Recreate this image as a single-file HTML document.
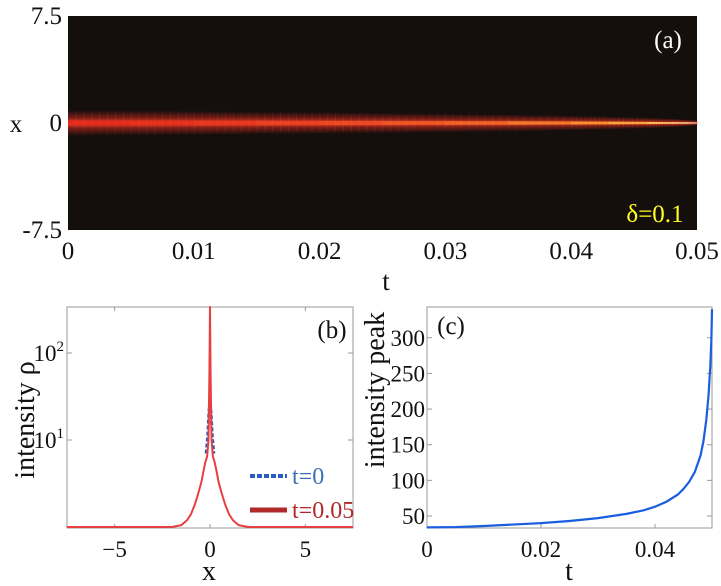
<!DOCTYPE html>
<html><head><meta charset="utf-8"><style>
html,body{margin:0;padding:0;background:#fff;width:721px;height:586px;overflow:hidden}
svg{display:block}
svg text{font-family:"Liberation Serif","DejaVu Serif",serif}
</style></head><body>
<svg id="fig" width="721" height="586" viewBox="0 0 721 586" xmlns="http://www.w3.org/2000/svg">
<defs>
<linearGradient id="bandG" x1="0" y1="0" x2="0" y2="1">
<stop offset="0" stop-color="#e03020" stop-opacity="0"/>
<stop offset="0.3" stop-color="#e03020" stop-opacity="0.5"/>
<stop offset="0.5" stop-color="#ff4a30" stop-opacity="1"/>
<stop offset="0.7" stop-color="#e03020" stop-opacity="0.5"/>
<stop offset="1" stop-color="#e03020" stop-opacity="0"/>
</linearGradient>
</defs>
</svg>
<script>
// Panel (a) data
const aTicksT=[0,0.01,0.02,0.03,0.04,0.05];
const aTickLabelsT=["0","0.01","0.02","0.03","0.04","0.05"];
const aTicksX=[7.5,0,-7.5];
const aTickLabelsX=["7.5","0","-7.5"];
const aBandT=[0,0.005,0.01,0.015,0.02,0.025,0.03,0.035,0.04,0.043,0.046,0.048,0.049,0.05];
const aBandHalfWidth=[0.9,0.88,0.85,0.8,0.76,0.72,0.66,0.6,0.52,0.46,0.38,0.3,0.24,0.16];
const aBandColor=["#e52a1c","#e6301c","#e8361e","#ea4020","#ec4a22","#ee5824","#f06826","#f4802a","#f89a30","#fab040","#fcc860","#fdda80","#fff0b0","#ffe8c0"];
// Panel (b) data
const bX=[-7.5,-2,-1.5,-1.2,-1,-0.8,-0.6,-0.45,-0.35,-0.25,-0.15,-0.08,-0.03,0,0.03,0.08,0.15,0.25,0.35,0.45,0.6,0.8,1,1.2,1.5,2,7.5];
const bRed=[1,1,1.05,1.2,1.4,1.8,2.5,3.3,4.3,5.5,6.5,10,60,340,60,10,6.5,5.5,4.3,3.3,2.5,1.8,1.4,1.2,1.05,1,1];
const bBlueX=[-0.2,-0.12,-0.06,0,0.06,0.12,0.2];
const bBlue=[7,11,20,30,20,11,7];
const bTicksX=[-5,0,5];
const bTicksY=[10,100];
// Panel (c) data
const cT=[0,0.005,0.01,0.015,0.02,0.025,0.03,0.035,0.038,0.04,0.042,0.044,0.045,0.046,0.047,0.048,0.0485,0.049,0.0494,0.0497,0.0499,0.05];
const cPeak=[34,34.5,36,38,40,43,47,53,58,63,70,80,88,98,112,135,155,185,220,260,300,340];
const cTicksT=[0,0.02,0.04];
const cTickLabelsT=["0","0.02","0.04"];
const cTicksY=[50,100,150,200,250,300];

const NS="http://www.w3.org/2000/svg";
const svg=document.getElementById('fig');
function mk(tag,attrs,parent){const e=document.createElementNS(NS,tag);for(const k in attrs)e.setAttribute(k,attrs[k]);(parent||svg).appendChild(e);return e;}
function txt(x,y,s,size,anchor,fill,parent){const e=mk('text',{x:x,y:y,'font-size':size,'text-anchor':anchor||'middle',fill:fill||'#111','font-family':'Liberation Serif, serif'},parent);e.textContent=s;return e;}

// ---------- Panel A ----------
const A={l:68,r:697,t:16,b:230};
const ax=t=>A.l+(t-0)/(0.05)*(A.r-A.l);
const ay=x=>A.t+(7.5-x)/15*(A.b-A.t);
const gA=mk('g',{});


const bg=mk('rect',{x:A.l,y:A.t,width:A.r-A.l,height:A.b-A.t,fill:'#140e0d'},gA);


for(let i=0;i<aBandT.length-1;i++){
  const x0=ax(aBandT[i]),x1=ax(aBandT[i+1]);
  const steps=8;
  for(let s=0;s<steps;s++){
    const f=s/steps;
    const hw=aBandHalfWidth[i]+(aBandHalfWidth[i+1]-aBandHalfWidth[i])*f;
    const y0=ay(hw),y1=ay(-hw);
    const cx=x0+(x1-x0)*f;
    const r=mk('rect',{x:cx,y:y0,width:(x1-x0)/steps+0.6,height:y1-y0,fill:'url(#bandG)'},gA);
    
    
    const c=mk('rect',{x:cx,y:ay(hw*0.2),width:(x1-x0)/steps+0.6,height:ay(-hw*0.2)-ay(hw*0.2),fill:aBandColor[i],opacity:0.9},gA);
    
    
  }
}
aTicksT.forEach((t,i)=>{const e=txt(ax(t),259,aTickLabelsT[i],25,'middle','#111');});
aTicksX.forEach((x,i)=>{const e=txt(62,ay(x)+8,aTickLabelsX[i],25,'end','#111');});
let e;
e=txt(386,290,'t',27);
e=txt(16,132,'x',25);
e=txt(668,48,'(a)',25,'middle','#fff');
e=txt(655,222,'δ=0.1',25,'middle','#ffff20');

// ---------- Panel B ----------
const B={l:67,r:353,t:307,b:528};
const bx=x=>B.l+(x+7.5)/15*(B.r-B.l);
const by=v=>{const y=440-(Math.log10(v)-1)*87;return Math.max(B.t,Math.min(B.b,y));};
const gB=mk('g',{});


const fb=mk('rect',{x:B.l,y:B.t,width:B.r-B.l,height:B.b-B.t,fill:'#fff',stroke:'#999','stroke-width':1},gB);

bTicksX.forEach(x=>{mk('line',{x1:bx(x),x2:bx(x),y1:B.b,y2:B.b-4,stroke:'#999'},gB);mk('line',{x1:bx(x),x2:bx(x),y1:B.t,y2:B.t+4,stroke:'#999'},gB);
  const t=txt(bx(x),557,x<0?'−'+Math.abs(x):String(x),23,'middle','#111',gB);});
bTicksY.forEach(v=>{mk('line',{x1:B.l,x2:B.l+5,y1:by(v),y2:by(v),stroke:'#999'},gB);mk('line',{x1:B.r,x2:B.r-5,y1:by(v),y2:by(v),stroke:'#999'},gB);
  const t=mk('text',{x:64,y:by(v)+8,'font-size':23,'text-anchor':'end',fill:'#111','font-family':'Liberation Serif, serif'},gB);
  
  const t1=document.createElementNS(NS,'tspan');t1.textContent='10';t.appendChild(t1);
  const t2=document.createElementNS(NS,'tspan');t2.setAttribute('dy','-10');t2.setAttribute('font-size','15');t2.textContent=String(Math.round(Math.log10(v)));t.appendChild(t2);});
const blueP=mk('polyline',{points:bBlueX.map((x,i)=>bx(x)+','+by(bBlue[i])).join(' '),fill:'none',stroke:'#2a5fc0','stroke-width':3,'stroke-dasharray':'4,2'},gB);

const redP=mk('polyline',{points:bX.map((x,i)=>bx(x)+','+by(bRed[i])).join(' '),fill:'none',stroke:'#e84040','stroke-width':2,'stroke-linejoin':'round'},gB);

const lg1=mk('line',{x1:250,x2:287,y1:476,y2:476,stroke:'#2a5fc0','stroke-width':4,'stroke-dasharray':'5,2'},gB);

e=txt(292,484,'t=0',24,'start','#3a70b8',gB);
const lg2=mk('line',{x1:250,x2:287,y1:510,y2:510,stroke:'#b02a2a','stroke-width':5},gB);

e=txt(292,518,'t=0.05',24,'start','#b02a2a',gB);
e=txt(332,338,'(b)',25,'middle','#111',gB);
e=txt(209,580,'x',28,'middle','#111',gB);
e=txt(0,0,'intensity ρ',28,'middle','#111',gB);e.setAttribute('transform','translate(34,420) rotate(-90)');

// ---------- Panel C ----------
const C={l:427,r:712,t:307,b:528};
const cx=t=>C.l+t/0.05*(C.r-C.l);
const cy=v=>516-(v-50)*0.713;
const gC=mk('g',{});


const fc=mk('rect',{x:C.l,y:C.t,width:C.r-C.l,height:C.b-C.t,fill:'#fff',stroke:'#999','stroke-width':1},gC);

cTicksT.forEach((t,i)=>{mk('line',{x1:cx(t),x2:cx(t),y1:C.b,y2:C.b-4,stroke:'#999'},gC);
  const s=txt(cx(t),557,cTickLabelsT[i],23,'middle','#111',gC);});
cTicksY.forEach(v=>{mk('line',{x1:C.l,x2:C.l+5,y1:cy(v),y2:cy(v),stroke:'#999'},gC);mk('line',{x1:C.r,x2:C.r-5,y1:cy(v),y2:cy(v),stroke:'#999'},gC);
  const s=txt(425,cy(v)+8,String(v),23,'end','#111',gC);});
const cl=mk('polyline',{points:cT.map((t,i)=>cx(t)+','+cy(cPeak[i])).join(' '),fill:'none',stroke:'#1a5ee0','stroke-width':2.2},gC);

e=txt(451,334,'(c)',25,'middle','#111',gC);
e=txt(569,580,'t',28,'middle','#111',gC);
e=txt(0,0,'intensity peak',28,'middle','#111',gC);e.setAttribute('transform','translate(384,390) rotate(-90)');
</script>
</body></html>
